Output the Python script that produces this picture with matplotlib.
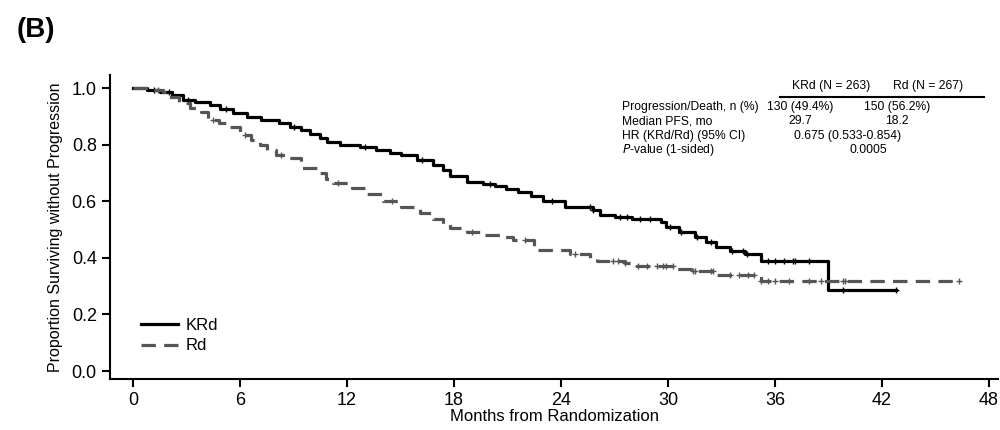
import numpy as np
import matplotlib.pyplot as plt

plt.rcParams['font.family'] = ['Liberation Sans', 'DejaVu Sans']

# KRd arm: event times (months) and survival after each step
krd_t = [0, 0.8, 1.5, 2.2, 2.8, 3.5, 4.3, 4.9, 5.6, 6.4, 7.2, 8.2, 8.8, 9.4, 9.9, 10.5,
         10.9, 11.6, 12.7, 13.6, 14.4, 15.0, 15.9, 16.8, 17.4, 17.8, 18.7, 19.6, 20.3,
         20.9, 21.6, 22.3, 23.0, 24.2, 25.8, 26.2, 27.0, 28.0, 29.6, 29.9, 30.6, 31.5,
         32.1, 32.7, 33.5, 34.3, 35.2, 38.96]
krd_s = [1.0, 0.993, 0.986, 0.975, 0.958, 0.95, 0.94, 0.925, 0.912, 0.898, 0.888, 0.876,
         0.862, 0.85, 0.838, 0.822, 0.81, 0.80, 0.79, 0.782, 0.772, 0.763, 0.746, 0.728,
         0.71, 0.69, 0.668, 0.66, 0.655, 0.645, 0.632, 0.618, 0.60, 0.58, 0.568, 0.55,
         0.545, 0.538, 0.528, 0.51, 0.49, 0.473, 0.455, 0.437, 0.425, 0.413, 0.39, 0.286]
krd_end = 42.8
krd_cens = [1.2, 2.0, 3.1, 5.2, 9.0, 13.0, 16.2, 20.0, 23.5, 25.6, 25.8, 27.3, 27.7, 28.4,
            29.0, 30.1, 30.7, 31.6, 32.4, 33.6, 34.2, 34.4, 35.6, 36.0, 36.5, 37.0, 37.1,
            37.9, 39.8, 42.8]

# Rd arm
rd_t = [0, 1.0, 1.7, 1.9, 2.6, 3.2, 3.8, 4.2, 4.8, 5.3, 6.0, 6.6, 7.1, 7.5, 8.0, 8.6,
        9.4, 10.3, 10.8, 11.2, 12.3, 13.1, 14.0, 15.0, 16.1, 16.8, 17.4, 17.8, 18.7,
        19.6, 20.6, 21.3, 22.5, 24.5, 25.6, 26.0, 27.6, 28.0, 30.5, 31.3, 32.7, 35.2]
rd_s = [1.0, 0.993, 0.986, 0.968, 0.947, 0.93, 0.915, 0.887, 0.875, 0.862, 0.834, 0.815,
        0.80, 0.78, 0.765, 0.753, 0.717, 0.70, 0.68, 0.664, 0.647, 0.625, 0.60, 0.58,
        0.56, 0.537, 0.52, 0.505, 0.49, 0.48, 0.473, 0.462, 0.427, 0.413, 0.401, 0.389,
        0.382, 0.371, 0.362, 0.355, 0.339, 0.317]
rd_end = 46.3
rd_cens = [1.4, 4.5, 6.3, 8.3, 11.5, 14.5, 19.0, 22.0, 24.8, 26.9, 27.2, 27.6, 28.3,
           28.8, 29.4, 29.7, 29.9, 30.3, 31.4, 31.5, 32.4, 32.5, 33.5, 34.0, 34.5, 34.8,
           35.2, 35.6, 36.0, 36.8, 37.9, 38.6, 39.8, 39.9, 46.3]

table_rows = ['Progression/Death, n (%)', 'Median PFS, mo', 'HR (KRd/Rd) (95% CI)',
              '$\\it{P}$-value (1-sided)']
krd_vals = ['130 (49.4%)', '29.7']
rd_vals = ['150 (56.2%)', '18.2']
hr_text = '0.675 (0.533-0.854)'
p_text = '0.0005'


def surv_at(t, times, surv):
    idx = np.searchsorted(times, t, side='right') - 1
    return np.array(surv)[idx]


fig = plt.figure(figsize=(10, 4.3), dpi=100)
ax = fig.add_axes([0.11, 0.1186, 0.888, 0.707])

ax.step(krd_t + [krd_end], krd_s + [krd_s[-1]], where='post', color='black', lw=2.3,
        label='KRd')
ax.plot(krd_cens, surv_at(krd_cens, krd_t, krd_s), '+', color='black', ms=5, mew=1)
ax.step(rd_t + [rd_end], rd_s + [rd_s[-1]], where='post', color='#555555', lw=2.3,
        dashes=(4.5, 2.6), label='Rd')
ax.plot(rd_cens, surv_at(rd_cens, rd_t, rd_s), '+', color='#555555', ms=5, mew=1)

ax.set_xlim(-1.29, 48.5)
ax.set_ylim(-0.028, 1.046)
ax.set_xticks(np.arange(0, 49, 6))
ax.set_yticks(np.arange(0, 1.01, 0.2))
ax.set_yticklabels(['0.0', '0.2', '0.4', '0.6', '0.8', '1.0'])
ax.spines['top'].set_visible(False)
ax.spines['right'].set_visible(False)
for s in ['left', 'bottom']:
    ax.spines[s].set_linewidth(1.5)
ax.tick_params(direction='out', length=6, width=1.5, labelsize=13)
ax.set_xlabel('Months from Randomization', fontsize=12, labelpad=0)
ax.set_ylabel('Proportion Surviving without Progression', fontsize=11.5, labelpad=6)

ax.legend(loc='lower left', bbox_to_anchor=(0.018, 0.035), frameon=False, fontsize=12,
          handlelength=2.2, handletextpad=0.5, labelspacing=0.35)

# statistics table
tk = dict(fontsize=8.7, transform=fig.transFigure)
fig.text(0.831, 1 - 86 / 430, 'KRd (N = 263)', ha='center', va='center', **tk)
fig.text(0.928, 1 - 86 / 430, 'Rd (N = 267)', ha='center', va='center', **tk)
fig.add_artist(plt.Line2D([0.780, 0.984], [1 - 97 / 430] * 2, color='black', lw=1.5,
                          transform=fig.transFigure))
row_y = [107, 121, 136, 150]
for lab, y in zip(table_rows, row_y):
    fig.text(0.622, 1 - y / 430, lab, ha='left', va='center', **tk)
for i in range(2):
    fig.text(0.800, 1 - row_y[i] / 430, krd_vals[i], ha='center', va='center', **tk)
    fig.text(0.897, 1 - row_y[i] / 430, rd_vals[i], ha='center', va='center', **tk)
fig.text(0.848, 1 - row_y[2] / 430, hr_text, ha='center', va='center', **tk)
fig.text(0.868, 1 - row_y[3] / 430, p_text, ha='center', va='center', **tk)

fig.text(0.017, 1 - 30 / 430, '(B)', fontsize=20, fontweight='bold', ha='left', va='center')

fig.savefig('out.png', dpi=100)
